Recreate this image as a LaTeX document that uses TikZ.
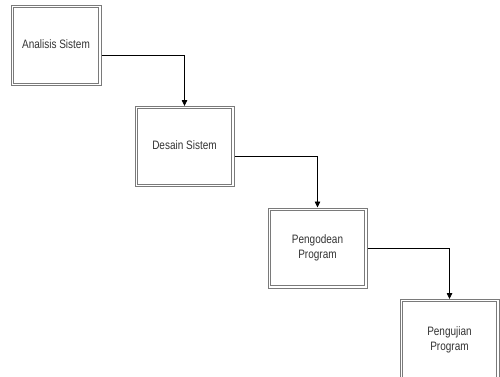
\documentclass[tikz,border=0pt]{standalone}
\usepackage{fontspec}
\setmainfont{Liberation Sans}
\usetikzlibrary{arrows.meta}
\definecolor{boxline}{HTML}{7A7A7A}
\definecolor{boxtext}{HTML}{333333}
% narrow label set in a centred column
\newcommand\stagelabel[1]{\scalebox{0.82}[1]{\begin{tabular}{@{}c@{}}#1\end{tabular}}}
\tikzset{
  stagebox/.style={draw=boxline, line width=1pt, fill=white, inner sep=0pt,
    minimum width=99pt, minimum height=80pt,
    font=\fontsize{12.2}{15}\selectfont, text=boxtext, align=center,
    path picture={
      \draw[boxline, line width=1pt]
        ([shift={(2.2pt,2.2pt)}]path picture bounding box.south west)
        rectangle
        ([shift={(-2.2pt,-2.2pt)}]path picture bounding box.north east);
    }},
  flow/.style={draw=black, line width=0.8pt,
    -{Triangle[length=6pt,width=5.5pt]}}
}
\begin{document}
\begin{tikzpicture}[x=1pt,y=1pt]
  \useasboundingbox (0,0) rectangle (500,376);
  \clip (0,0) rectangle (500,376);
  \fill[white] (0,0) rectangle (500,376);

  % waterfall stages (y measured from the top edge)
  \node[stagebox, minimum width=90pt] (analisis) at (56,376-45.5) {\stagelabel{Analisis Sistem}};
  \node[stagebox] (desain) at (184.5,376-146.5) {\stagelabel{Desain Sistem}};
  \node[stagebox] (kode) at (317.5,376-248) {\stagelabel{Pengodean\\Program}};
  \node[stagebox] (uji) at (449.5,376-339.5) {\stagelabel{Pengujian\\Program}};

  % transitions between stages
  \draw[flow] ([yshift=-9.5pt]analisis.east) -| (desain.north);
  \draw[flow] ([yshift=-10pt]desain.east) -| (kode.north);
  \draw[flow] (kode.east) -| (uji.north);
\end{tikzpicture}
\end{document}
